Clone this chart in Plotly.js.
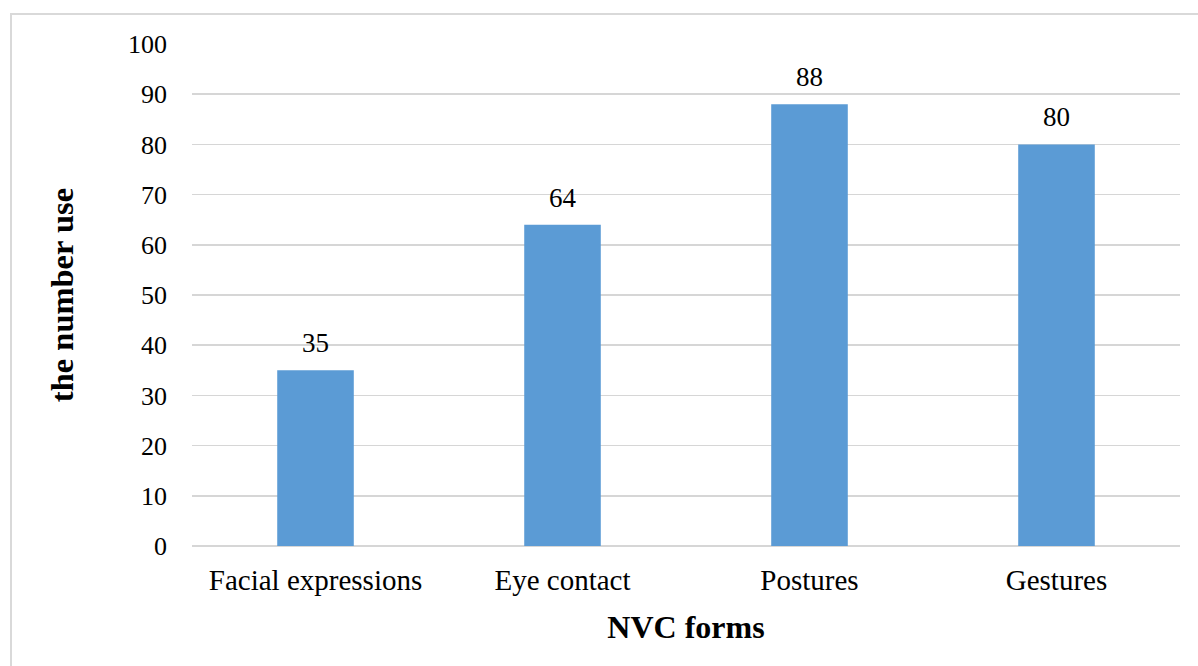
<!DOCTYPE html>
<html>
<head>
<meta charset="utf-8">
<script src="https://cdn.plot.ly/plotly-3.0.1.min.js"></script>
<style>
  html, body { margin: 0; padding: 0; width: 1198px; height: 666px; overflow: hidden; background: #ffffff; }
  #frame { position: absolute; left: 10px; top: 13px; width: 1400px; height: 900px; border: 2px solid #d9d9d9; box-sizing: border-box; }
  #chart { position: absolute; left: 0; top: 0; width: 1198px; height: 666px; }
</style>
</head>
<body>
<div id="frame"></div>
<div id="chart"></div>
<script>
// NVC forms and how often each was used
const categories = ["Facial expressions", "Eye contact", "Postures", "Gestures"];
const usage = [35, 64, 88, 80];

const serif = "'Liberation Serif', 'Times New Roman', serif";

const trace = {
  type: "bar",
  x: categories,
  y: usage,
  marker: { color: "#5b9bd5" },
  hoverinfo: "x+y"
};

// value labels placed above each bar
const valueLabels = categories.map((c, i) => ({
  x: c,
  y: usage[i],
  xref: "x",
  yref: "y",
  text: String(usage[i]),
  showarrow: false,
  yanchor: "bottom",
  yshift: 10,
  font: { family: serif, size: 27, color: "#000000" }
}));

const layout = {
  width: 1198,
  height: 666,
  margin: { l: 192, r: 18, t: 44, b: 120 },
  paper_bgcolor: "rgba(0,0,0,0)",
  plot_bgcolor: "rgba(0,0,0,0)",
  bargap: 0.69,
  showlegend: false,
  xaxis: {
    type: "category",
    showgrid: false,
    showline: false,
    zeroline: false,
    ticks: "",
    ticklabelstandoff: 14,
    tickfont: { family: serif, size: 29, color: "#000000" },
    title: { text: "<b>NVC forms</b>", font: { family: serif, size: 32, color: "#000000" }, standoff: 20 }
  },
  yaxis: {
    range: [0, 100],
    dtick: 10,
    showgrid: true,
    gridcolor: "#d6d6d6",
    gridwidth: 1.5,
    zeroline: true,
    zerolinecolor: "#d6d6d6",
    zerolinewidth: 1.5,
    showline: false,
    ticks: "",
    ticklabelstandoff: 24,
    tickfont: { family: serif, size: 26, color: "#000000" },
    title: { text: "<b>the number use</b>", font: { family: serif, size: 32.5, color: "#000000" }, standoff: 44 }
  },
  annotations: valueLabels
};

Plotly.newPlot("chart", [trace], layout, { displayModeBar: false, staticPlot: true });
</script>
</body>
</html>
